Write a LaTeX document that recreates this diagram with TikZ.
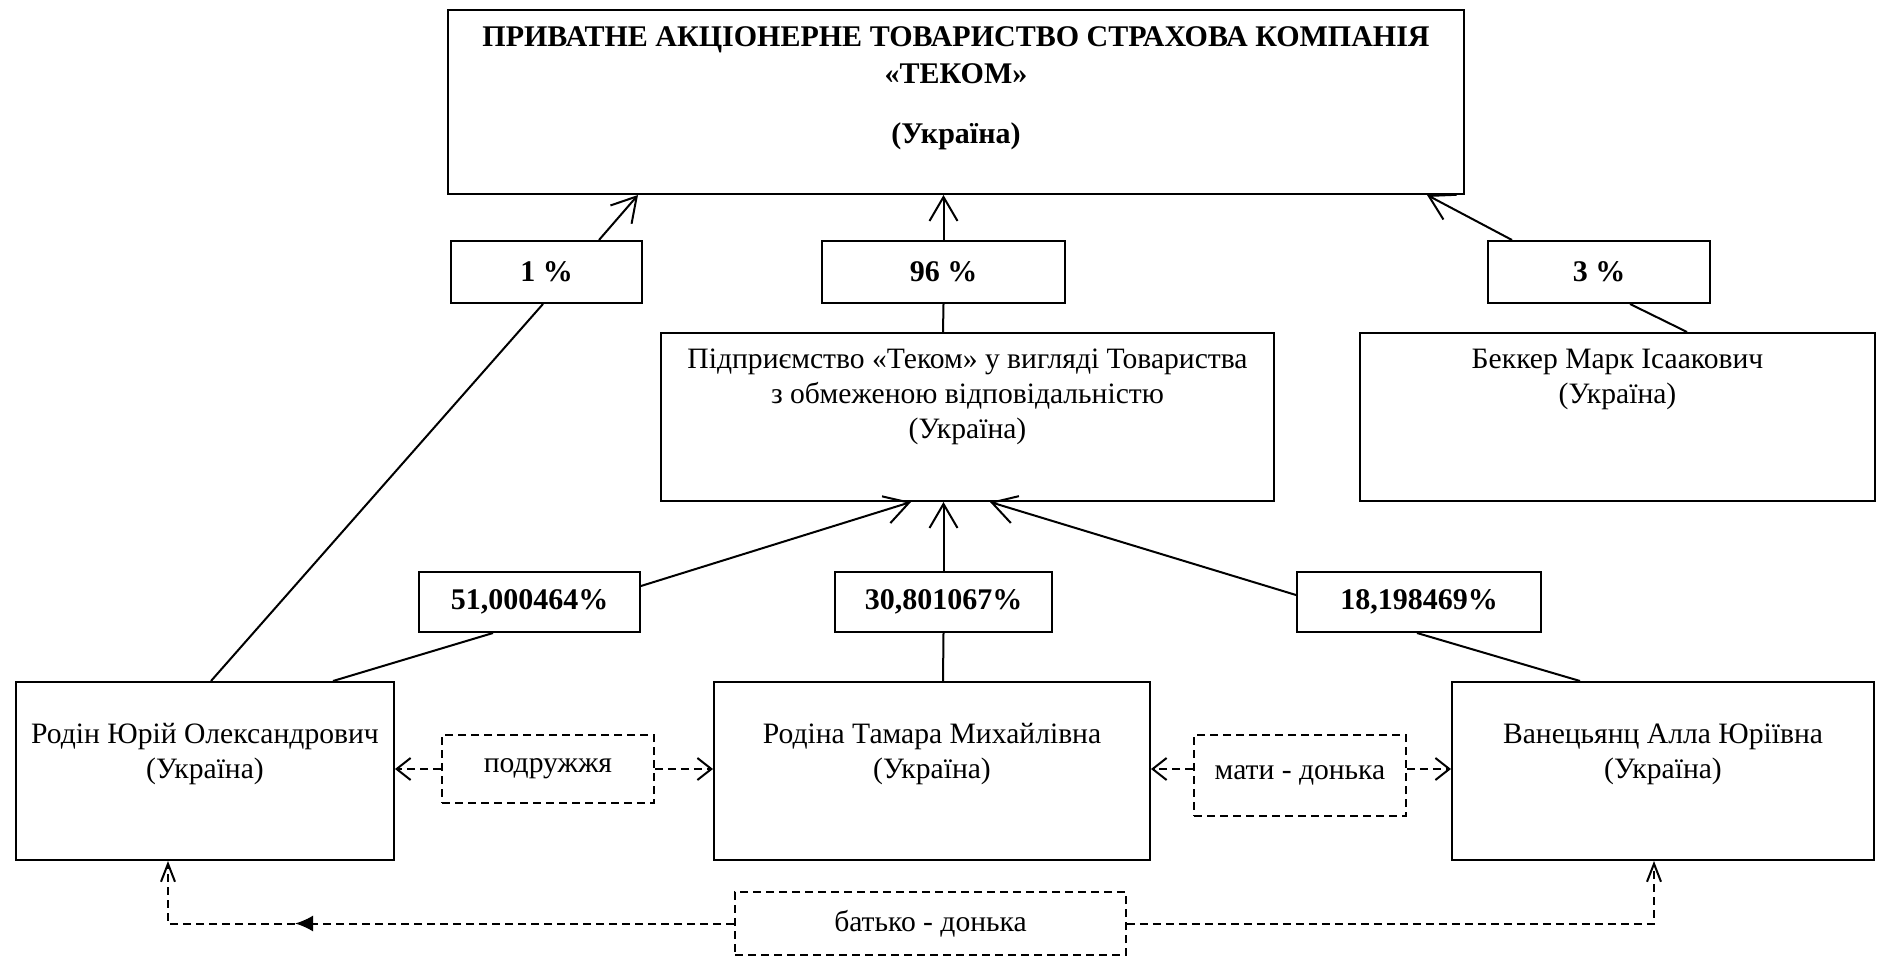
\documentclass[tikz,border=0pt]{standalone}
\usepackage{fontspec}
\setmainfont{Liberation Serif}
\usetikzlibrary{arrows.meta}
\tikzset {
    >={Straight Barb[length=12pt,width=14pt]},
    every node/.style={font=\fontsize{14.8}{17.5}\selectfont},
    box/.style={draw, line width=1pt, inner sep=0pt},
    pct/.style={box, fill=white, font=\fontsize{15}{17.5}\selectfont\bfseries},
    rel/.style={draw, line width=0.9pt, dash pattern=on 4pt off 2.5pt, inner sep=0pt},
    boxtext/.style={align=center, anchor=north, inner sep=0pt},
    link/.style={line width=1pt},
    kin/.style={line width=1pt, dash pattern=on 4pt off 2.5pt,
        >={Straight Barb[length=7pt,width=11pt]}}
}

\begin{document}
\begin{tikzpicture}[x=0.5pt, y=-0.5pt]
    \useasboundingbox (0,0) rectangle (1879,957);

    % company and owners
    \node[box, minimum width=508pt, minimum height=92pt,
        label={[boxtext, yshift=-6.25pt, font=\fontsize{15}{17.5}\selectfont\bfseries]north:{\strut ПРИВАТНЕ АКЦІОНЕРНЕ ТОВАРИСТВО СТРАХОВА КОМПАНІЯ\\[1pt] «ТЕКОМ»\\[12.5pt] (Україна)}}]
        (tekom) at (956,102) {};
    \node[box, minimum width=306.5pt, minimum height=84pt,
        label={[boxtext, yshift=-5.75pt]north:{\strut Підприємство «Теком» у вигляді Товариства\\ з обмеженою відповідальністю\\ (Україна)}}]
        (tov) at (967.5,417) {};
    \node[box, minimum width=257.5pt, minimum height=84pt,
        label={[boxtext, yshift=-5.75pt]north:{\strut Беккер Марк Ісаакович\\ (Україна)}}]
        (bekker) at (1617.5,417) {};
    \node[box, minimum width=189pt, minimum height=89pt,
        label={[boxtext, yshift=-18.75pt]north:{\strut Родін Юрій Олександрович\\ (Україна)}}]
        (rodin) at (205,771) {};
    \node[box, minimum width=218pt, minimum height=89pt,
        label={[boxtext, yshift=-18.75pt]north:{\strut Родіна Тамара Михайлівна\\ (Україна)}}]
        (rodina) at (932,771) {};
    \node[box, minimum width=211pt, minimum height=89pt,
        label={[boxtext, yshift=-18.75pt]north:{\strut Ванецьянц Алла Юріївна\\ (Україна)}}]
        (van) at (1663,771) {};

    % shares
    \node[pct, minimum width=95.5pt, minimum height=31pt] (p1) at (546.5,272) {1 \%};
    \node[pct, minimum width=121.5pt, minimum height=31pt] (p96) at (943.5,272) {96 \%};
    \node[pct, minimum width=111pt, minimum height=31pt] (p3) at (1599,272) {3 \%};
    \node[pct, minimum width=110.5pt, minimum height=30pt] (p51) at (529.5,602) {51,000464\%};
    \node[pct, minimum width=108.5pt, minimum height=30pt] (p30) at (943.5,602) {30,801067\%};
    \node[pct, minimum width=122pt, minimum height=30pt] (p18) at (1419,602) {18,198469\%};

    % family ties
    \node[rel, minimum width=106pt, minimum height=34pt] (pod) at (548,769) {подружжя};
    \node[rel, minimum width=106pt, minimum height=40.5pt] (mat) at (1300,775.5) {мати - донька};
    \node[rel, minimum width=195.5pt, minimum height=31.5pt] (bat) at (930.5,923.5) {батько - донька};
    \coordinate (mark) at (295,923.5);

    \draw[link]
    ([xshift=3pt]rodin.north) edge ([xshift=-1.75pt]p1.south)
    ([xshift=26.25pt]p1.north) edge[->] ([xshift=95.5pt]tekom.south west)
    ([xshift=-12.25pt]tov.north) edge (p96.south)
    (p96.north) edge[->] (p96.north |- tekom.south)
    ([xshift=34.75pt]bekker.north) edge ([xshift=15.5pt]p3.south)
    ([xshift=-43.5pt]p3.north) edge[->] ([xshift=-19pt]tekom.south east)
    ([xshift=64pt]rodin.north) edge ([xshift=-18.25pt]p51.south)
    ([yshift=8pt]p51.east) edge[->] ([xshift=-28.25pt]tov.south)
    ([xshift=5.5pt]rodina.north) edge (p30.south)
    (p30.north) edge[->] (p30.north |- tov.south)
    ([xshift=-41.5pt]van.north) edge ([xshift=-1pt]p18.south)
    ([yshift=3.5pt]p18.west) edge[->] ([xshift=11.25pt]tov.south);

    \draw[kin]
    (pod.west) edge[->] (pod.west -| rodin.east)
    (pod.east) edge[->] (pod.east -| rodina.west)
    ([yshift=3.25pt]mat.west) edge[->] ([yshift=3.25pt]mat.west -| rodina.east)
    ([yshift=3.25pt]mat.east) edge[->] ([yshift=3.25pt]mat.east -| van.west);

    \draw[kin, -{Latex[length=9pt,width=8pt]}] (bat.west) -- (mark);
    \draw[kin, >={Straight Barb[length=9pt,width=7pt]}, ->] (mark) -| ([xshift=-18.5pt]rodin.south);
    \draw[kin, >={Straight Barb[length=9pt,width=7pt]}, ->] (bat.east) -| ([xshift=-4.5pt]van.south);
\end{tikzpicture}
\end{document}
